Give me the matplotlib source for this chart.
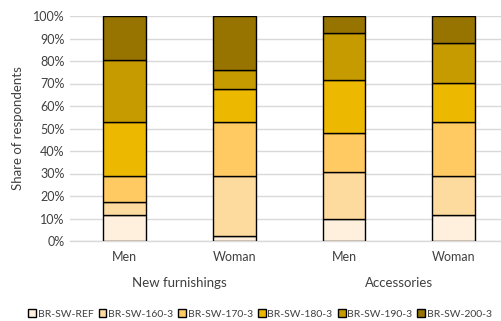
import matplotlib
matplotlib.use("Agg")
import matplotlib.pyplot as plt
from matplotlib.ticker import FuncFormatter
import numpy as np

plt.rcParams['font.family'] = ['Lato', 'DejaVu Sans']

# Bars: (group, gender)
genders = ["Men", "Woman", "Men", "Woman"]
groups = ["New furnishings", "Accessories"]

series_names = ["BR-SW-REF", "BR-SW-160-3", "BR-SW-170-3",
                "BR-SW-180-3", "BR-SW-190-3", "BR-SW-200-3"]

# Share of respondents (%) per series, one value per bar
br_sw_ref = [11.4, 2.2, 9.9, 11.4]
br_sw_160 = [5.9, 26.8, 20.6, 17.6]
br_sw_170 = [11.7, 23.7, 17.6, 23.7]
br_sw_180 = [23.7, 14.7, 23.6, 17.7]
br_sw_190 = [27.9, 8.7, 20.6, 17.6]
br_sw_200 = [19.4, 23.9, 7.7, 12.0]

colors = ["#FFF0DD", "#FDDA9E", "#FFCA62", "#EDB800", "#C69B00", "#977400"]
text_color = "#404040"
grid_color = "#D9D9D9"

series = [br_sw_ref, br_sw_160, br_sw_170, br_sw_180, br_sw_190, br_sw_200]

fig = plt.figure(figsize=(5.01, 3.21), dpi=100)
W, H = 501, 321
ax = fig.add_axes([70 / W, 1 - 241 / H, 431 / W, 225 / H])

x = np.arange(len(genders))
bottom = np.zeros(len(genders))
handles = []
for name, vals, col in zip(series_names, series, colors):
    v = np.array(vals, dtype=float)
    h = ax.bar(x, v, 0.39, bottom=bottom, color=col, edgecolor="black",
               linewidth=1.0, label=name, zorder=3)
    handles.append(h)
    bottom += v

ax.set_ylim(0, 100)
ax.set_xlim(-0.497, 3.431)
ax.set_yticks(np.arange(0, 101, 10))
ax.yaxis.set_major_formatter(FuncFormatter(lambda v, p: f"{int(v)}%"))
ax.grid(axis="y", color=grid_color, linewidth=1.0, zorder=0)
for s in ["top", "right", "left"]:
    ax.spines[s].set_visible(False)
ax.spines["bottom"].set_color(grid_color)
ax.spines["bottom"].set_linewidth(1.0)
ax.spines["bottom"].set_zorder(1)
ax.tick_params(axis="both", length=0, labelsize=9, colors=text_color, pad=4)

ax.set_xticks(x)
ax.set_xticklabels(genders)
ax.tick_params(axis="x", pad=7)

ax.set_ylabel("Share of respondents", fontsize=9.5, color=text_color, labelpad=6)

# Group labels under the gender labels
for i, g in enumerate(groups):
    cx = (x[2 * i] + x[2 * i + 1]) / 2
    ax.text(cx, -0.185, g, transform=ax.get_xaxis_transform(),
            ha="center", va="center", fontsize=9.5, color=text_color)

leg = fig.legend(handles=handles, loc="center", bbox_to_anchor=(260 / W, 1 - 314 / H),
                 ncol=6, frameon=False, fontsize=7.5, handlelength=0.75,
                 handleheight=0.75, handletextpad=0.15, columnspacing=0.5,
                 labelcolor=text_color, borderaxespad=0, borderpad=0)

fig.savefig("out.png", dpi=100)
